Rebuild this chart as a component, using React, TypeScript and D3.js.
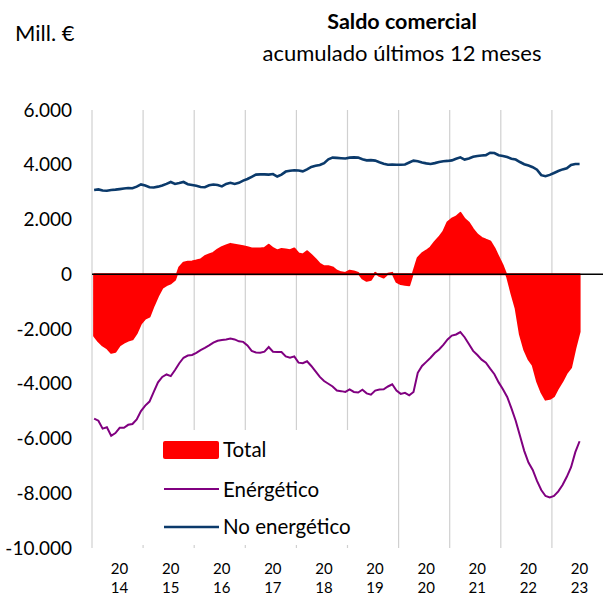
import React from "react";
import * as d3 from "d3";

const years = ["2014","2015","2016","2017","2018","2019","2020","2021","2022","2023"];
const yTicks = [6000,4000,2000,0,-2000,-4000,-6000,-8000,-10000];

// Monthly values, Jan 2014 – Jul 2023 (Mill. €)
const noEnergetico = [
  3080,3100,3060,3050,3080,3090,3110,3130,3150,3140,3200,3280,
  3240,3180,3170,3200,3240,3300,3370,3300,3330,3370,3290,3260,
  3230,3190,3180,3250,3280,3260,3210,3300,3340,3300,3340,3420,
  3480,3560,3640,3650,3650,3640,3660,3570,3640,3750,3780,3800,
  3790,3760,3830,3920,3960,3990,4060,4200,4260,4250,4240,4230,
  4260,4270,4260,4200,4160,4170,4150,4090,4040,4000,4010,4000,
  4000,4010,4080,4150,4130,4080,4050,4030,4060,4100,4130,4140,
  4160,4220,4270,4190,4230,4290,4320,4340,4350,4440,4430,4350,
  4320,4280,4220,4190,4100,4020,3970,3910,3820,3620,3580,3630,
  3700,3770,3830,3870,3990,4030,4030
];
const energetico = [
  -5270,-5350,-5640,-5590,-5900,-5800,-5610,-5610,-5500,-5470,-5300,-5000,
  -4800,-4650,-4300,-3950,-3750,-3660,-3720,-3500,-3250,-3050,-2970,-2950,
  -2870,-2770,-2690,-2600,-2500,-2430,-2400,-2380,-2350,-2380,-2450,-2470,
  -2600,-2800,-2860,-2870,-2830,-2660,-2830,-2840,-2840,-3000,-3050,-3000,
  -3230,-3250,-3180,-3350,-3550,-3750,-3900,-4000,-4100,-4250,-4270,-4300,
  -4210,-4300,-4320,-4220,-4350,-4400,-4250,-4210,-4200,-4100,-4020,-4250,
  -4370,-4330,-4420,-4300,-3600,-3350,-3200,-3050,-2880,-2750,-2580,-2380,
  -2240,-2200,-2110,-2300,-2550,-2800,-2950,-3120,-3230,-3450,-3650,-3950,
  -4200,-4480,-4900,-5350,-5900,-6450,-6880,-7150,-7550,-7880,-8100,-8150,
  -8100,-7930,-7700,-7400,-7050,-6500,-6100
];
const total = [
  -2250,-2450,-2600,-2700,-2870,-2830,-2600,-2500,-2420,-2380,-2150,-1800,
  -1620,-1550,-1150,-800,-500,-400,-330,-200,250,420,460,470,
  500,540,660,720,780,900,990,1050,1110,1080,1050,1020,
  990,940,940,940,960,1080,950,870,920,900,880,940,
  760,720,840,700,550,380,290,290,250,130,70,50,
  130,100,50,-150,-240,-200,50,-60,-120,20,50,-280,
  -360,-380,-400,100,600,760,860,980,1180,1350,1560,1900,
  2030,2100,2240,2020,1880,1640,1450,1330,1260,1200,950,620,
  300,-100,-700,-1250,-2200,-2750,-3100,-3320,-3900,-4300,-4580,-4550,
  -4450,-4150,-3900,-3600,-3400,-2700,-2100
];

const W = 603, H = 595;
const left = 92, right = 603, top = 110, bottom = 548;
const font = "Lato, 'Open Sans', sans-serif";

export default function App() {
  const x = d3.scaleLinear().domain([0, years.length * 12]).range([left, right]);
  const y = d3.scaleLinear().domain([-10000, 6000]).range([bottom, top]);
  const xi = (i: number) => x(i + 0.5);

  const area = d3.area<number>().x((_, i) => xi(i)).y0(y(0)).y1((d) => y(d));
  const line = d3.line<number>().x((_, i) => xi(i)).y((d) => y(d));

  const fmt = (v: number) => {
    if (v === 0) return "0";
    const s = Math.abs(v).toString();
    const withDots = s.replace(/\B(?=(\d{3})+(?!\d))/g, ".");
    return (v < 0 ? "-" : "") + withDots;
  };

  return (
    <svg width={W} height={H} style={{ position: "absolute", left: 0, top: 0 }} fontFamily={font}>
      <rect x={0} y={0} width={W} height={H} fill="#fff" />
      <text x={15} y={41} fontSize={22} fill="#000">Mill. €</text>
      <text x={402} y={29} fontSize={21.5} fontWeight="bold" textAnchor="middle" fill="#000">Saldo comercial</text>
      <text x={402} y={61} fontSize={22} textAnchor="middle" fill="#000">acumulado últimos 12 meses</text>

      {years.map((_, k) => (
        <line key={k} x1={x(k * 12)} x2={x(k * 12)} y1={top} y2={bottom} stroke="#d0d0d0" strokeWidth={1.2} />
      ))}

      {yTicks.map((t) => (
        <text key={t} x={72} y={y(t) + 6.5} fontSize={19} textAnchor="end" fill="#000">{fmt(t)}</text>
      ))}

      {years.map((yr, k) => (
        <g key={yr} fontSize={15} textAnchor="middle" fill="#000">
          <text x={x(k * 12 + 6) + 2} y={574}>{yr.slice(0, 2)}</text>
          <text x={x(k * 12 + 6) + 2} y={593}>{yr.slice(2)}</text>
        </g>
      ))}

      <path d={area(total) || ""} fill="#ff0000" stroke="#ff0000" strokeWidth={2} strokeLinejoin="round" />
      <path d={line(energetico) || ""} fill="none" stroke="#800080" strokeWidth={2} />
      <path d={line(noEnergetico) || ""} fill="none" stroke="#0b3a6b" strokeWidth={2.6} />
      <line x1={left} x2={right} y1={y(0)} y2={y(0)} stroke="#000" strokeWidth={1.5} />

      <g>
        <rect x={126} y={430} width={226} height={115} fill="#fff" />
        <rect x={163} y={441} width={56} height={18} rx={2} fill="#ff0000" />
        <text x={223} y={457} fontSize={20.5} fill="#000">Total</text>
        <line x1={164} x2={219} y1={489} y2={489} stroke="#800080" strokeWidth={2} />
        <text x={223} y={497} fontSize={20.5} fill="#000">Enérgético</text>
        <line x1={164} x2={219} y1={527} y2={527} stroke="#0b3a6b" strokeWidth={2.6} />
        <text x={223} y={534} fontSize={20.5} fill="#000">No energético</text>
      </g>
    </svg>
  );
}
